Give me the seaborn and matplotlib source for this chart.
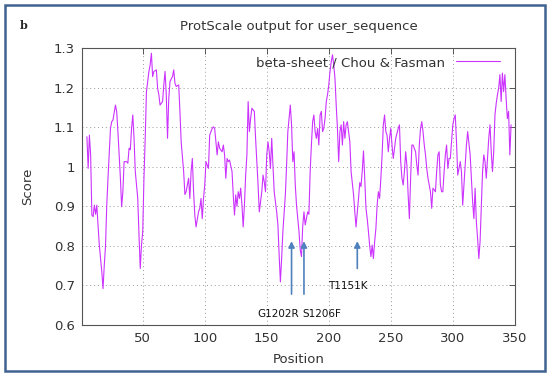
import matplotlib
matplotlib.use("Agg")
import matplotlib.pyplot as plt
import seaborn as sns
import pandas as pd
from matplotlib.patches import Rectangle

# posiciones y valores (beta-sheet / Chou & Fasman)
posiciones = [5, 6, 7, 8, 9, 10, 11, 12, 13, 14, 15, 17, 18, 19, 20, 21, 22, 24, 25, 26,
              28, 29, 30, 32, 33, 34, 35, 37, 38, 39, 40, 41, 42, 43, 44, 46, 47, 48, 49, 50,
              51, 52, 53, 55, 56, 57, 58, 59, 61, 62, 63, 64, 66, 67, 68, 69, 70, 71, 72, 74,
              75, 76, 77, 79, 80, 81, 83, 84, 85, 87, 88, 89, 90, 91, 92, 93, 95, 96, 97, 98,
              99, 100, 101, 103, 104, 106, 107, 108, 110, 111, 112, 114, 115, 116, 117, 118, 119, 120, 122, 123,
              124, 125, 126, 127, 128, 129, 130, 131, 132, 133, 134, 135, 136, 137, 138, 139, 140, 141, 142, 143,
              144, 146, 147, 148, 149, 150, 151, 152, 153, 154, 155, 156, 157, 158, 159, 160, 161, 162, 163, 165,
              166, 167, 169, 170, 171, 172, 173, 174, 175, 176, 177, 178, 179, 180, 181, 183, 184, 185, 186, 187,
              188, 189, 190, 191, 192, 193, 194, 195, 196, 197, 198, 199, 200, 201, 202, 203, 204, 205, 206, 207,
              208, 209, 210, 211, 212, 213, 214, 215, 216, 217, 218, 220, 221, 222, 223, 224, 225, 226, 227, 228,
              229, 230, 231, 232, 233, 234, 235, 236, 237, 238, 239, 240, 241, 242, 243, 244, 245, 246, 247, 248,
              249, 250, 251, 252, 253, 254, 256, 257, 258, 259, 260, 261, 262, 263, 264, 265, 266, 267, 268, 270,
              271, 272, 273, 274, 275, 276, 277, 278, 279, 280, 281, 282, 283, 284, 286, 287, 288, 289, 290, 291,
              292, 293, 294, 295, 296, 297, 298, 299, 300, 301, 302, 303, 304, 305, 306, 307, 308, 309, 310, 311,
              312, 314, 315, 316, 317, 318, 319, 320, 321, 322, 323, 324, 325, 326, 327, 328, 329, 330, 331, 332,
              333, 334, 335, 336, 337, 338, 339, 340, 341, 342, 343, 344, 345, 346, 347]

scores = [1.076, 0.996, 1.080, 1.030, 0.878, 0.874, 0.903, 0.880, 0.903, 0.850, 0.802, 0.735, 0.692, 0.751, 0.800, 0.903, 0.971, 1.097, 1.114, 1.118,
          1.156, 1.140, 1.089, 0.971, 0.899, 0.937, 1.013, 1.013, 1.009, 1.047, 1.043, 1.097, 1.131, 1.072, 0.988, 0.920, 0.827, 0.743, 0.802, 0.836,
          0.971, 1.072, 1.190, 1.241, 1.258, 1.287, 1.228, 1.241, 1.245, 1.199, 1.182, 1.156, 1.165, 1.207, 1.241, 1.182, 1.072, 1.173, 1.216, 1.228,
          1.245, 1.211, 1.203, 1.207, 1.140, 1.063, 0.988, 0.930, 0.937, 0.971, 0.920, 0.988, 1.021, 0.937, 0.878, 0.848, 0.886, 0.895, 0.920, 0.869,
          0.920, 0.954, 1.013, 0.996, 1.080, 1.097, 1.101, 1.097, 1.030, 1.063, 1.047, 1.038, 1.055, 1.030, 0.971, 1.021, 1.013, 1.017, 0.988, 0.929,
          0.878, 0.929, 0.900, 0.937, 0.920, 0.946, 0.903, 0.848, 0.903, 0.979, 1.030, 1.165, 1.089, 1.122, 1.148, 1.144, 1.140, 1.072, 1.013, 0.954,
          0.886, 0.937, 0.979, 0.962, 0.937, 1.030, 1.063, 1.038, 0.996, 1.072, 1.004, 0.937, 0.912, 0.886, 0.853, 0.777, 0.709, 0.768, 0.836, 0.929,
          1.004, 1.089, 1.156, 1.106, 1.013, 1.038, 0.954, 0.903, 0.869, 0.836, 0.790, 0.773, 0.850, 0.886, 0.853, 0.886, 0.880, 0.988, 1.055, 1.114,
          1.131, 1.089, 1.072, 1.097, 1.055, 1.131, 1.140, 1.089, 1.097, 1.122, 1.165, 1.182, 1.207, 1.241, 1.266, 1.283, 1.258, 1.224, 1.156, 1.097,
          1.013, 1.089, 1.106, 1.055, 1.114, 1.072, 1.106, 1.114, 1.089, 1.063, 0.988, 0.929, 0.886, 0.848, 0.886, 0.920, 0.960, 0.950, 0.990, 1.040,
          0.971, 0.895, 0.869, 0.836, 0.800, 0.773, 0.802, 0.768, 0.811, 0.844, 0.903, 0.937, 0.920, 0.971, 1.030, 1.106, 1.131, 1.089, 1.080, 1.038,
          1.072, 1.097, 1.055, 1.021, 1.047, 1.072, 1.097, 1.106, 1.013, 0.971, 0.954, 0.988, 1.038, 1.004, 0.929, 0.869, 0.971, 1.055, 1.055, 1.038,
          1.004, 0.979, 1.055, 1.097, 1.114, 1.089, 1.055, 1.030, 0.996, 0.971, 0.954, 0.937, 0.895, 0.946, 0.937, 0.988, 1.030, 1.038, 0.954, 0.937,
          0.937, 0.988, 1.030, 1.055, 0.996, 1.021, 1.021, 1.063, 1.106, 1.122, 1.131, 1.063, 0.979, 0.996, 1.013, 0.988, 0.903, 0.954, 1.004, 1.055,
          1.089, 1.030, 0.971, 0.912, 0.869, 0.946, 0.861, 0.819, 0.768, 0.811, 0.903, 0.988, 1.030, 1.013, 0.971, 1.021, 1.072, 1.106, 1.038, 0.988,
          1.038, 1.131, 1.160, 1.182, 1.199, 1.233, 1.165, 1.237, 1.190, 1.233, 1.173, 1.122, 1.140, 1.030, 1.106]

# mutaciones marcadas con flechas
mutaciones = ["G1202R", "S1206F", "T1151K"]
pos_flecha = [170, 180, 223]
base_flecha = [0.671, 0.671, 0.736]
punta_flecha = [0.819, 0.819, 0.819]
pos_texto = [159, 194, 215]
y_texto = [0.627, 0.627, 0.699]

df = pd.DataFrame({"Position": posiciones, "Score": scores})

sns.set_theme(style="white")
plt.rcParams["font.family"] = ["DejaVu Sans"]

fig = plt.figure(figsize=(5.5, 3.76), dpi=100)
ax = fig.add_axes([0.149, 0.1356, 0.787, 0.7364])

sns.lineplot(data=df, x="Position", y="Score", ax=ax, color="#cc33ff", linewidth=0.8,
             estimator=None, label="beta-sheet / Chou & Fasman")

ax.set_xlim(1, 350)
ax.set_ylim(0.6, 1.3)
ax.set_xticks([50, 100, 150, 200, 250, 300, 350])
ax.set_yticks([0.6, 0.7, 0.8, 0.9, 1.0, 1.1, 1.2, 1.3])
ax.set_yticklabels(["0.6", "0.7", "0.8", "0.9", "1", "1.1", "1.2", "1.3"])
ax.tick_params(direction="in", top=True, right=True, length=4, width=0.7,
               labelsize=9.5, labelcolor="#333333", color="#555555", pad=5)
ax.grid(True, linestyle=(0, (1, 3)), color="#999999", linewidth=0.7)
for s in ax.spines.values():
    s.set_color("#555555")
    s.set_linewidth(0.8)

ax.set_xlabel("Position", fontsize=9.5, color="#333333", labelpad=6)
ax.set_ylabel("Score", fontsize=9.5, color="#333333", labelpad=14)
ax.set_title("ProtScale output for user_sequence", fontsize=9.5, color="#333333", pad=13)

leg = ax.legend(loc="upper right", frameon=False, markerfirst=False, fontsize=9.5,
                handlelength=3.4, borderaxespad=0.2, bbox_to_anchor=(0.985, 1.0))
for t in leg.get_texts():
    t.set_color("#333333")

for nombre, px, y0, y1, tx, ty in zip(mutaciones, pos_flecha, base_flecha, punta_flecha, pos_texto, y_texto):
    ax.annotate("", xy=(px, y1), xytext=(px, y0),
                arrowprops=dict(arrowstyle="-|>", color="#4f81bd", lw=1.2, mutation_scale=9))
    ax.text(tx, ty, nombre, ha="center", va="center", fontsize=7.5, color="#111111")

fig.text(0.036, 0.933, "b", fontsize=8, fontweight="bold", family="DejaVu Serif", ha="left", va="center")

fig.patches.append(Rectangle((0.009, 0.012), 0.982, 0.976, transform=fig.transFigure,
                             fill=False, edgecolor="#3f6390", linewidth=1.8))

fig.savefig("out.png", dpi=100)
